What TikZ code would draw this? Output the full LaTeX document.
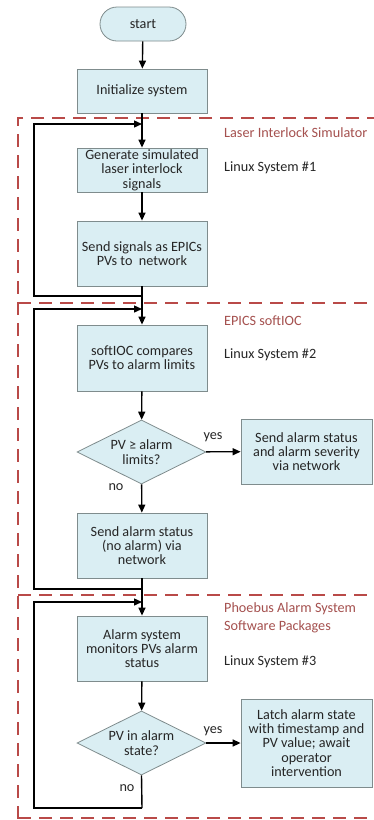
\documentclass[tikz,border=0pt]{standalone}
\usepackage{fontspec}
\setmainfont{Carlito}
\usetikzlibrary{shapes.geometric,arrows.meta}
\definecolor{boxfill}{HTML}{DAEEF3}
\definecolor{boxline}{HTML}{7F8C8D}
\definecolor{regline}{HTML}{B94A48}
\definecolor{regtext}{HTML}{A5514F}
\tikzset{
  txt/.style={font=\fontsize{14.2}{14.3}\selectfont, text=black!85},
  proc/.style={txt, draw=boxline, fill=boxfill, line width=0.8pt, align=center, inner sep=1pt},
  decide/.style={txt, draw=boxline, fill=boxfill, line width=0.8pt, diamond, aspect=2, inner sep=0pt,
    minimum width=129pt, minimum height=64pt, align=center},
  term/.style={txt, draw=boxline, fill=boxfill, line width=0.8pt, rounded corners=17pt,
    minimum width=86pt, minimum height=34pt},
  flow/.style={line width=1.4pt, -{Triangle[length=8pt,width=7pt]}},
  plain/.style={line width=1.4pt},
  region/.style={draw=regline, line width=2.6pt, dash pattern=on 13pt off 8pt},
  reglabel/.style={anchor=west, text=regtext, align=left, inner sep=0pt,
    font=\fontsize{14.2}{18}\selectfont},
  syslabel/.style={txt, anchor=west, inner sep=0pt},
  small/.style={txt, inner sep=0pt}
}
\begin{document}
\begin{tikzpicture}[x=1pt,y=-1pt]
\useasboundingbox (0,0) rectangle (374,820);
\clip (0,0) rectangle (374,820);
\fill[white] (0,0) rectangle (374,820);
% regions
\draw[region] (380,118) -- (18,118) -- (18,820);
\draw[region] (18,303) -- (380,303);
\draw[region] (18,595) -- (380,595);
\draw[region] (18,818) -- (380,818);
\node[reglabel] (l1) at (224,133) {Laser Interlock Simulator};
\node[reglabel] (l2) at (224,321) {EPICS softIOC};
\node[reglabel] (l3) at (224,618) {Phoebus Alarm System\\Software Packages};
\node[syslabel] (s1) at (224,168) {Linux System \#1};
\node[syslabel] (s2) at (224,355) {Linux System \#2};
\node[syslabel] (s3) at (224,662) {Linux System \#3};
% nodes
\node[term] (start) at (143,24) {start};
\node[proc, minimum width=130pt, minimum height=44pt] (init) at (142,91) {Initialize system};
\node[proc, minimum width=130pt, minimum height=44pt] (gen) at (142,170) {Generate simulated\\laser interlock\\signals};
\node[proc, minimum width=130pt, minimum height=65pt] (send) at (142,253.5) {Send signals as EPICs\\PVs to\ \ network};
\node[proc, minimum width=130pt, minimum height=66pt] (soft) at (142,358) {softIOC compares\\PVs to alarm limits};
\node[decide] (d1) at (141.5,452) {PV ≥ alarm\\limits?};
\node[proc, minimum width=131pt, minimum height=65pt] (sev) at (306.5,451.5) {Send alarm status\\and alarm severity\\via network};
\node[proc, minimum width=130pt, minimum height=65pt] (nal) at (142,545.5) {Send alarm status\\(no alarm) via\\network};
\node[proc, minimum width=130pt, minimum height=65pt] (mon) at (142,648.5) {Alarm system\\monitors PVs alarm\\status};
\node[decide] (d2) at (141.5,743) {PV in alarm\\state?};
\node[proc, minimum width=131pt, minimum height=88pt] (latch) at (306.5,743) {Latch alarm state\\with timestamp and\\PV value; await\\operator\\intervention};
% loop coordinates
\coordinate (j1) at (142,124);
\coordinate (b1) at (142,296);
\coordinate (j2) at (142,309);
\coordinate (b2) at (142,589);
\coordinate (j3) at (142,602);
\coordinate (b3) at (142,808);
% connectors
\draw[flow] (start) -- (init);
\draw[flow] (init) -- (gen);
\draw[flow] (gen) -- (send);
\draw[flow] (send) -- (soft);
\draw[flow] (soft) -- (d1);
\draw[flow] (d1) -- (sev);
\draw[flow] (d1) -- (nal);
\draw[flow] (nal) -- (mon);
\draw[flow] (mon) -- (d2);
\draw[flow] (d2) -- (latch);
\draw[flow] (b1) -| (34,124) -- (j1);
\draw[flow] (b2) -| (34,309) -- (j2);
\draw[plain] (d2.south) -- (b3);
\draw[flow] (b3) -| (34,602) -- (j3);
% labels
\node[small] (y1) at (213,437) {yes};
\node[small] (n1) at (116,487) {no};
\node[small] (y2) at (213,731) {yes};
\node[small] (n2) at (127,788) {no};
\end{tikzpicture}
\end{document}
